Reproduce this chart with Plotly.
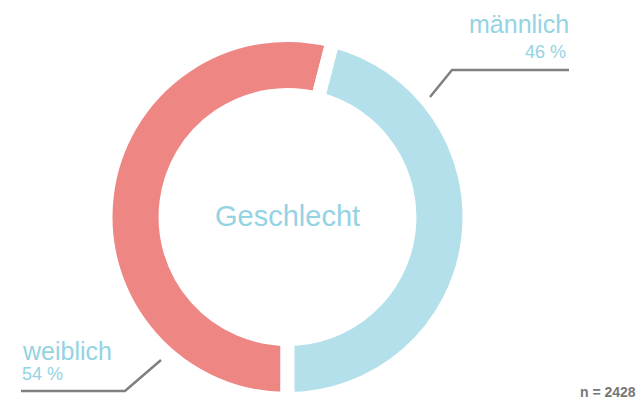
import plotly.graph_objects as go

labels = ["weiblich", "männlich"]
values = [54, 46]
colors = ["#ee8683", "#b3e0ea"]
center_title = "Geschlecht"
n_text = "n = 2428"

W, H = 642, 403
cx, cy = 287.5, 217
R = 182
lw = 14

fig = go.Figure(go.Pie(
    labels=labels, values=values, sort=False,
    direction="clockwise", rotation=180,
    hole=0.67,
    marker=dict(colors=colors, line=dict(color="white", width=lw)),
    textinfo="none", hoverinfo="label+percent", showlegend=False,
    domain=dict(x=[(cx - R) / W, (cx + R) / W],
                y=[(H - cy - R) / H, (H - cy + R) / H]),
))

font = "Liberation Sans, Arial, Helvetica, sans-serif"
txt_col = "#94d3e3"
line_col = "#808080"

ann = []
ann.append(dict(x=cx / W, y=1 - 216 / H, text=center_title, showarrow=False,
                font=dict(size=29, color=txt_col, family=font),
                xanchor="center", yanchor="middle"))
# male label
ann.append(dict(x=571 / W, y=1 - 24 / H, text=labels[1], showarrow=False,
                font=dict(size=25, color=txt_col, family=font),
                xanchor="right", yanchor="middle"))
ann.append(dict(x=568 / W, y=1 - 52 / H, text=f"{values[1]} %", showarrow=False,
                font=dict(size=18, color=txt_col, family=font),
                xanchor="right", yanchor="middle"))
# female label
ann.append(dict(x=20 / W, y=1 - 351 / H, text=labels[0], showarrow=False,
                font=dict(size=25, color=txt_col, family=font),
                xanchor="left", yanchor="middle"))
ann.append(dict(x=20 / W, y=1 - 374 / H, text=f"{values[0]} %", showarrow=False,
                font=dict(size=18, color=txt_col, family=font),
                xanchor="left", yanchor="middle"))
ann.append(dict(x=638 / W, y=1 - 392 / H, text=f"<b>{n_text}</b>", showarrow=False,
                font=dict(size=14, color="#777777", family=font),
                xanchor="right", yanchor="middle"))

def px(x, y):
    return x / W, 1 - y / H

shapes = []
for pts in ([(430, 97), (452, 70), (569, 70)], [(161, 360), (125, 391), (21, 391)]):
    path = "M " + " L ".join(f"{px(x, y)[0]:.5f},{px(x, y)[1]:.5f}" for x, y in pts)
    shapes.append(dict(type="path", path=path, xref="paper", yref="paper",
                       line=dict(color=line_col, width=2.5)))

fig.update_layout(
    width=W, height=H, margin=dict(l=0, r=0, t=0, b=0),
    paper_bgcolor="white", plot_bgcolor="white",
    annotations=ann, shapes=shapes,
)
fig.write_html("out.html", config={"displayModeBar": False},
               post_script="document.body.style.margin='0';document.body.style.overflow='hidden';")
